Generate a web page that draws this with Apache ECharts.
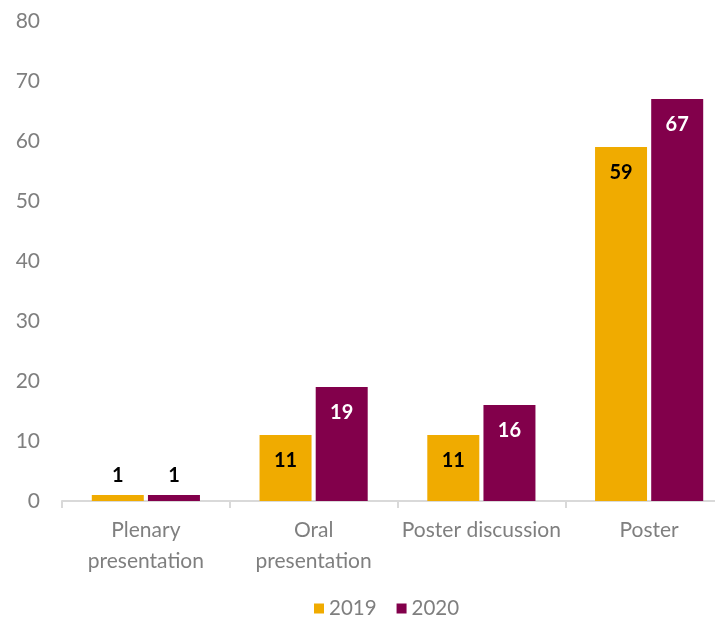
<!DOCTYPE html>
<html>
<head>
<meta charset="utf-8">
<script src="https://cdn.jsdelivr.net/npm/echarts@6/dist/echarts.min.js"></script>
<style>
  html, body { margin: 0; padding: 0; background: #ffffff; }
  #chart { width: 715px; height: 618px; }
</style>
</head>
<body>
<div id="chart"></div>
<script>
// Presentation types and counts per year
const categories = ['Plenary\npresentation', 'Oral\npresentation', 'Poster discussion', 'Poster'];
const values2019 = [1, 11, 11, 59];
const values2020 = [1, 19, 16, 67];
const yTicks = { min: 0, max: 80, interval: 10 };

const FONT = 'Lato, "Liberation Sans", sans-serif';
const GREY = '#7f7f7f';
const ORANGE = '#f0ab00';
const MAROON = '#82004b';

// Small values get their label above the bar, the rest sit inside the top
function labelled(values, insideColor) {
  return values.map(v => {
    const small = v < 5;
    return {
      value: v,
      label: {
        position: small ? 'top' : 'insideTop',
        distance: small ? 9 : 16,
        color: small ? '#000000' : insideColor
      }
    };
  });
}

const chart = echarts.init(document.getElementById('chart'), null, { renderer: 'canvas' });

// The plot runs past the right edge of the canvas, so the last category is cut off
chart.setOption({
  animation: false,
  textStyle: { fontFamily: FONT },
  grid: {
    left: 62, width: 671, top: 21, height: 480,
    containLabel: false,
    outerBoundsMode: 'none'
  },
  legend: {
    left: 314,
    top: 598,
    padding: 0,
    icon: 'rect',
    itemWidth: 10,
    itemHeight: 10,
    itemGap: 20,
    textStyle: { color: GREY, fontSize: 20.5, fontFamily: FONT },
    data: ['2019', '2020']
  },
  xAxis: {
    type: 'category',
    data: categories,
    axisLine: { show: true, lineStyle: { color: '#d9d9d9', width: 2 } },
    axisTick: { show: true, length: 7, lineStyle: { color: '#d9d9d9', width: 2 } },
    axisLabel: {
      color: GREY,
      fontSize: 21,
      fontFamily: FONT,
      lineHeight: 31,
      margin: 14,
      interval: 0
    }
  },
  yAxis: {
    type: 'value',
    min: yTicks.min,
    max: yTicks.max,
    interval: yTicks.interval,
    axisLine: { show: false },
    axisTick: { show: false },
    splitLine: { show: false },
    axisLabel: { color: GREY, fontSize: 21, fontFamily: FONT, margin: 22 }
  },
  series: [
    {
      name: '2019',
      type: 'bar',
      data: labelled(values2019, '#000000'),
      barWidth: 52,
      barGap: '8%',
      itemStyle: { color: ORANGE },
      label: { show: true, fontWeight: 'bold', fontSize: 20, fontFamily: FONT }
    },
    {
      name: '2020',
      type: 'bar',
      data: labelled(values2020, '#ffffff'),
      barWidth: 52,
      barGap: '8%',
      itemStyle: { color: MAROON },
      label: { show: true, fontWeight: 'bold', fontSize: 20, fontFamily: FONT }
    }
  ]
});
</script>
</body>
</html>
